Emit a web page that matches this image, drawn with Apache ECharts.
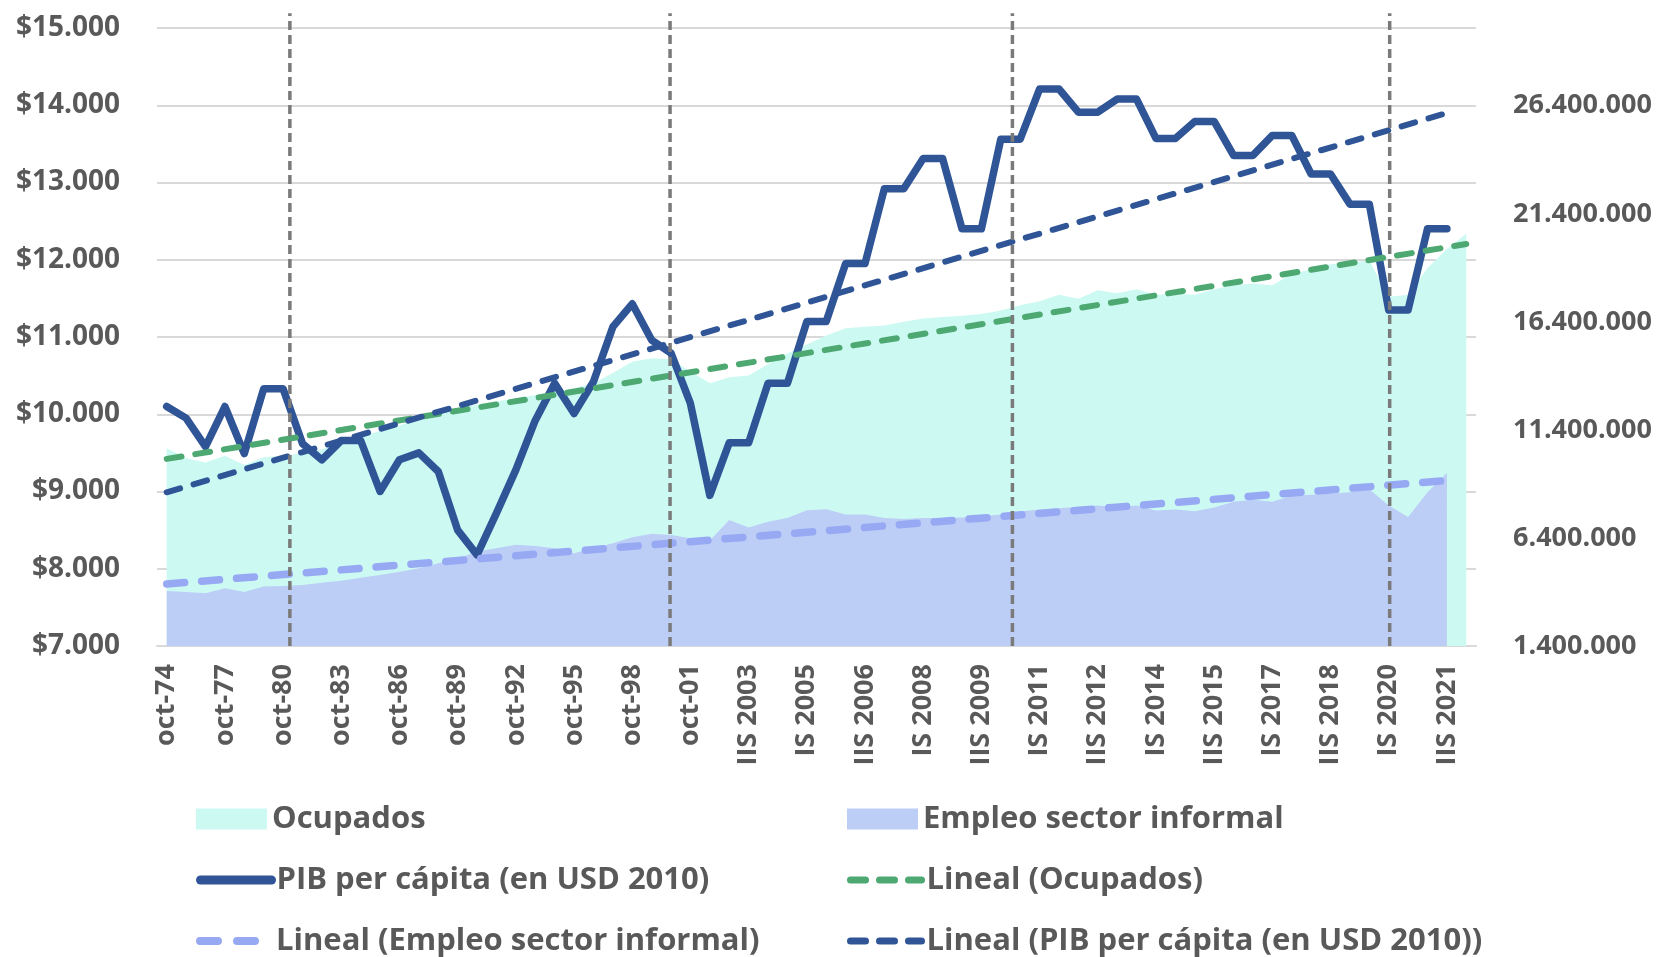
<!DOCTYPE html>
<html><head><meta charset="utf-8">
<script src="https://cdn.jsdelivr.net/npm/echarts@6/dist/echarts.min.js"></script>
<style>html,body{margin:0;padding:0;background:#fff}#c{width:1663px;height:957px}</style>
</head><body><div id="c"></div>
<script>
const categories = [
  'oct-74','oct-75','oct-76','oct-77','oct-78','oct-79','oct-80','oct-81','oct-82','oct-83',
  'oct-84','oct-85','oct-86','oct-87','oct-88','oct-89','oct-90','oct-91','oct-92','oct-93',
  'oct-94','oct-95','oct-96','oct-97','oct-98','oct-99','oct-00','oct-01','oct-02',
  'IS 2003','IIS 2003','IS 2004','IIS 2004','IS 2005','IIS 2005','IS 2006','IIS 2006',
  'IS 2007','IIS 2007','IS 2008','IIS 2008','IS 2009','IIS 2009','IS 2010','IIS 2010',
  'IS 2011','IIS 2011','IS 2012','IIS 2012','IS 2013','IIS 2013','IS 2014','IIS 2014',
  'IS 2015','IIS 2015','IS 2016','IIS 2016','IS 2017','IIS 2017','IS 2018','IIS 2018',
  'IS 2019','IIS 2019','IS 2020','IIS 2020','IS 2021','IIS 2021','IS 2022'
];
const pibPerCapita = [
  10100, 9950, 9580, 10100, 9490, 10330, 10330, 9620, 9410, 9660,
  9660, 9000, 9410, 9500, 9260, 8500, 8180, 8720, 9280, 9920,
  10400, 10010, 10420, 11130, 11430, 10960, 10790, 10140, 8950,
  9630, 9630, 10400, 10400, 11200, 11200, 11950, 11950, 12920, 12920,
  13310, 13310, 12400, 12400, 13560, 13560, 14210, 14210, 13910, 13910,
  14080, 14080, 13570, 13570, 13790, 13790, 13350, 13350, 13610, 13610,
  13110, 13110, 12720, 12720, 11350, 11350, 12400, 12400, null
];
const ocupados = [
  10550000, 10090000, 9890000, 10200000, 9780000, 10140000, 10200000, 10320000, 10500000, 10800000,
  11100000, 11350000, 11600000, 11900000, 12200000, 12400000, 12560000, 12710000, 12870000, 13020000,
  13170000, 13330000, 13560000, 14030000, 14560000, 14720000, 14670000, 14100000, 13560000, 13840000,
  13920000, 14440000, 14940000, 15350000, 15770000, 16100000, 16180000, 16230000, 16400000, 16560000,
  16630000, 16680000, 16760000, 16930000, 17170000, 17350000, 17650000, 17470000, 17860000, 17730000,
  17910000, 17650000, 17700000, 17650000, 17910000, 18090000, 18180000, 18090000, 18620000, 18820000,
  19070000, 19150000, 19240000, 17560000, 17650000, 18890000, 19770000, 20480000
];
const empleoInformal = [
  3950000, 3900000, 3840000, 4070000, 3900000, 4150000, 4180000, 4220000, 4330000, 4420000,
  4560000, 4690000, 4840000, 5000000, 5230000, 5450000, 5770000, 5920000, 6080000, 6030000,
  5920000, 5690000, 5920000, 6150000, 6430000, 6590000, 6540000, 6390000, 6280000, 7230000,
  6880000, 7150000, 7320000, 7680000, 7730000, 7480000, 7480000, 7320000, 7280000, 7320000,
  7320000, 7350000, 7400000, 7480000, 7620000, 7720000, 7780000, 7850000, 7900000, 7810000,
  7900000, 7670000, 7720000, 7640000, 7810000, 8080000, 8170000, 8080000, 8350000, 8400000,
  8450000, 8510000, 8650000, 7900000, 7370000, 8520000, 9410000, null
];
// trend lines: [start, end] values and the category indexes they span
const pibTrendEnds = [8990, 13900];
const pibTrendIdx = [0, 66];
const ocupTrendEnds = [10060000, 20000000];
const ocupTrendIdx = [0, 67];
const informalTrendEnds = [4270000, 9060000];
const informalTrendIdx = [0, 66];
// vertical dashed period separators (position in category units) and their vertical extent (left axis units)
const periodBreaks = [6.35, 25.95, 43.6, 63.05];
const breakSpan = [7000, 15190];
// axis scales
const leftAxis = [7000, 15000, 1000];
const rightAxis = [1400000, 30000000, 5000000];

const FONT = 'Open Sans';
const GREY = '#595959';
function dots(v) { return String(Math.round(v)).replace(/\B(?=(\d{3})+(?!\d))/g, '.'); }
function pairs(idx, vals) { return [[idx[0], vals[0]], [idx[1], vals[1]]]; }

const C_OCUP = '#CCFAF3', C_INF = '#BCCDF6', C_PIB = '#2F5597', C_GREEN = '#4EA872', C_LAV = '#98A9F4';

const series = [
  { name: 'Ocupados', type: 'line', yAxisIndex: 1, data: ocupados, symbol: 'none', silent: true,
    lineStyle: { width: 0, color: C_OCUP }, itemStyle: { color: C_OCUP }, areaStyle: { color: C_OCUP, opacity: 1 }, z: 1 },
  { name: 'Empleo sector informal', type: 'line', yAxisIndex: 1, data: empleoInformal, symbol: 'none', silent: true,
    lineStyle: { width: 0, color: C_INF }, itemStyle: { color: C_INF }, areaStyle: { color: C_INF, opacity: 1 }, z: 2 },
  { name: 'PIB per cápita (en USD 2010)', type: 'line', yAxisIndex: 0, data: pibPerCapita, symbol: 'none', silent: true,
    lineStyle: { width: 7.5, color: C_PIB, join: 'round', cap: 'round' }, itemStyle: { color: C_PIB }, z: 3 },
  { name: 'Lineal (Ocupados)', type: 'line', yAxisIndex: 1, data: pairs(ocupTrendIdx, ocupTrendEnds), symbol: 'none', silent: true,
    lineStyle: { width: 6, color: C_GREEN, type: [15, 14], cap: 'round' }, itemStyle: { color: C_GREEN }, z: 4 },
  { name: 'Lineal (Empleo sector informal)', type: 'line', yAxisIndex: 1, data: pairs(informalTrendIdx, informalTrendEnds), symbol: 'none', silent: true,
    lineStyle: { width: 7.5, color: C_LAV, type: [18, 17], cap: 'round' }, itemStyle: { color: C_LAV }, z: 4 },
  { name: 'Lineal (PIB per cápita (en USD 2010))', type: 'line', yAxisIndex: 0, data: pairs(pibTrendIdx, pibTrendEnds), symbol: 'none', silent: true,
    lineStyle: { width: 6, color: C_PIB, type: [14, 14], cap: 'round' }, itemStyle: { color: C_PIB }, z: 4 }
];
periodBreaks.forEach(function (p, k) {
  series.push({ name: 'sep' + k, type: 'line', xAxisIndex: 1, yAxisIndex: 0, clip: false, silent: true, symbol: 'none',
    data: [[p, breakSpan[0]], [p, breakSpan[1]]],
    lineStyle: { color: '#7A7A7A', width: 3.5, type: [9, 5] }, z: 6 });
});

function leg(name, left, top, icon, lineW, dash) {
  const item = icon ? { name: name, icon: icon } : { name: name };
  const l = { data: [item], left: left, top: top, orient: 'horizontal', selectedMode: false, padding: 0,
    itemWidth: 71, itemHeight: 21,
    textStyle: { fontFamily: FONT, fontWeight: 'bold', fontSize: 31, color: GREY, lineHeight: 36 } };
  if (!icon) {
    l.itemStyle = { opacity: 0 };
    l.lineStyle = { width: lineW, cap: 'round', type: dash || 'solid' };
  }
  return l;
}

const option = {
  animation: false,
  backgroundColor: '#ffffff',
  grid: { left: 157, right: 187, top: 28, bottom: 311, containLabel: false },
  xAxis: [
    { type: 'category', data: categories, boundaryGap: true,
      axisLine: { show: true, lineStyle: { color: '#D9D9D9', width: 2 } },
      axisTick: { show: false },
      axisLabel: { interval: 2, rotate: 90, margin: 18, color: GREY, fontFamily: FONT, fontWeight: 'bold', fontSize: 27 } },
    { type: 'value', min: -0.5, max: categories.length - 0.5, show: false }
  ],
  yAxis: [
    { type: 'value', min: leftAxis[0], max: leftAxis[1], interval: leftAxis[2], position: 'left',
      axisLine: { show: false }, axisTick: { show: false },
      splitLine: { show: true, lineStyle: { color: '#D9D9D9', width: 2 } },
      axisLabel: { margin: 37, color: GREY, fontFamily: FONT, fontWeight: 'bold', fontSize: 28,
        formatter: function (v) { return '$' + dots(v); } } },
    { type: 'value', min: rightAxis[0], max: rightAxis[1], interval: rightAxis[2], position: 'right',
      axisLine: { show: false }, axisTick: { show: false }, splitLine: { show: false },
      axisLabel: { margin: 37, showMaxLabel: false, color: GREY, fontFamily: FONT, fontWeight: 'bold', fontSize: 27,
        formatter: function (v) { return dots(v); } } }
  ],
  legend: [
    leg('Ocupados', 196, 801, 'rect'),
    leg('Empleo sector informal', 847, 801, 'rect'),
    leg('PIB per cápita (en USD 2010)', 196, 862, null, 9),
    leg('Lineal (Ocupados)', 847, 862, null, 7, [15, 14]),
    leg('Lineal (Empleo sector informal)', 196, 923, null, 8, [18, 19]),
    leg('Lineal (PIB per cápita (en USD 2010))', 847, 923, null, 7, [15, 14])
  ],
  series: series
};
const chart = echarts.init(document.getElementById('c'), null, { renderer: 'canvas' });
chart.setOption(option);
</script></body></html>
